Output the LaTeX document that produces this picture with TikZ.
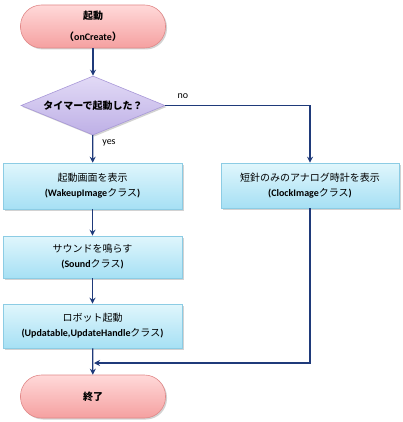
\documentclass[tikz,border=0pt]{standalone}
\usepackage{fontspec}
\setmainfont{Carlito}
\newfontfamily\jp{Noto Sans CJK JP}
\usetikzlibrary{shapes.geometric,shadows,arrows.meta}
\definecolor{arrowc}{HTML}{1F3A7A}
\definecolor{termtop}{HTML}{FFD9D9}
\definecolor{termbot}{HTML}{F5A0A0}
\definecolor{termdraw}{HTML}{E08888}
\definecolor{dectop}{HTML}{E2DAF6}
\definecolor{decbot}{HTML}{BEB0E6}
\definecolor{decdraw}{HTML}{A898D8}
\definecolor{boxtop}{HTML}{E0F6FC}
\definecolor{boxbot}{HTML}{A6E0F4}
\definecolor{boxdraw}{HTML}{8CCCE4}
\tikzset{
  termbox/.style={rectangle, rounded corners=21pt, minimum width=145pt, minimum height=43pt,
    top color=termtop, bottom color=termbot, draw=termdraw, line width=0.6pt,
    drop shadow={shadow xshift=1.5pt, shadow yshift=-1.5pt, fill=black!35, opacity=0.5},
    align=center, font=\fontsize{10}{21}\selectfont, inner sep=0pt},
  decbox/.style={diamond, aspect=2.44, minimum width=144pt, minimum height=59pt, inner sep=0pt,
    top color=dectop, bottom color=decbot, draw=decdraw, line width=0.6pt,
    drop shadow={shadow xshift=1.5pt, shadow yshift=-1.5pt, fill=black!35, opacity=0.5},
    align=center, font=\fontsize{10}{12}\selectfont},
  procbox/.style={rectangle, minimum width=179pt, inner sep=0pt,
    top color=boxtop, bottom color=boxbot, draw=boxdraw, line width=0.6pt,
    drop shadow={shadow xshift=1.5pt, shadow yshift=-1.5pt, fill=black!35, opacity=0.5},
    align=center, font=\fontsize{10}{15}\selectfont},
  flow/.style={draw=arrowc, line width=1.3pt, -{Stealth[length=6pt,width=6pt]}},
  lbl/.style={font=\fontsize{10}{12}\selectfont, inner sep=0pt}
}
\begin{document}
\begin{tikzpicture}[x=1pt,y=-1pt]
\useasboundingbox (0,0) rectangle (402,422);
\node[termbox] (start) at (93,26.5) {{\jp\bfseries 起動}\\{\jp\bfseries （}\textbf{onCreate}{\jp\bfseries ）}};
\node[decbox] (dec) at (93,105.5) {{\jp\bfseries タイマーで起動した？}};
\node[procbox, minimum height=46pt] (b1) at (92.5,186) {{\jp 起動画面を表示}\\\textbf{(WakeupImage}{\jp クラス}\textbf{)}};
\node[procbox, minimum height=42pt] (b2) at (92.5,257) {{\jp サウンドを鳴らす}\\\textbf{(Sound}{\jp クラス}\textbf{)}};
\node[procbox, minimum height=44pt] (b3) at (92.5,326) {{\jp ロボット起動}\\\textbf{(Updatable,UpdateHandle}{\jp クラス}\textbf{)}};
\node[termbox] (end) at (93,396.5) {{\jp\bfseries 終了}};
\node[procbox, minimum width=178pt, minimum height=45pt] (rb) at (310,185.5) {{\jp 短針のみのアナログ時計を表示}\\\textbf{(ClockImage}{\jp クラス}\textbf{)}};
\coordinate (turn) at (310,105.5);
\coordinate (merge) at (310,363);
\coordinate (mend) at (93,363);
\node[lbl] (no) at (183,96) {no};
\node[lbl] (yes) at (109,143) {yes};
\draw[flow] (start) -- (dec);
\draw[flow] (dec) -- (b1);
\draw[flow] (b1) -- (b2);
\draw[flow] (b2) -- (b3);
\draw[flow] (b3) -- (end);
\draw[flow] (dec.east) -- (turn) -- (rb.north);
\draw[flow] (rb.south) -- (merge) -- ([xshift=1pt]mend);
\end{tikzpicture}
\end{document}
